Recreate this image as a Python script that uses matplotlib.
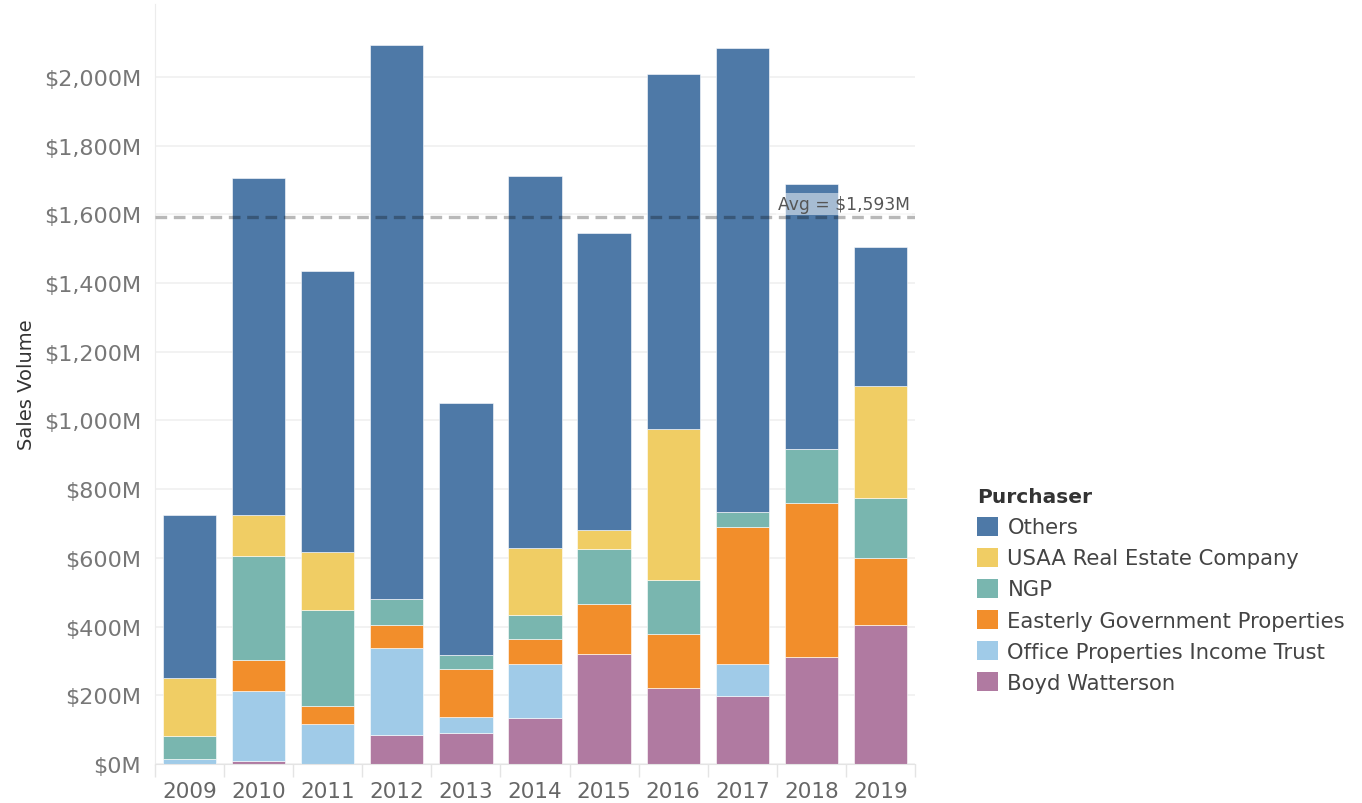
import numpy as np
import matplotlib
matplotlib.use("Agg")
import matplotlib.pyplot as plt
from matplotlib.patches import Patch

years = ["2009", "2010", "2011", "2012", "2013", "2014", "2015", "2016", "2017", "2018", "2019"]

# sales volume in $M, stacked bottom -> top
boyd = [0, 8, 0, 84, 90, 134, 320, 221, 198, 312, 405]
office_props = [15, 204, 116, 254, 47, 157, 0, 0, 93, 0, 0]
easterly = [0, 91, 53, 67, 140, 73, 146, 157, 399, 448, 195]
ngp = [67, 302, 279, 75, 40, 70, 160, 158, 44, 157, 174]
usaa = [168, 120, 169, 0, 0, 195, 55, 439, 0, 0, 326]
others = [475, 981, 818, 1613, 734, 1083, 865, 1034, 1350, 771, 405]

avg_value = 1593
avg_label = "Avg = $1,593M"

series = [
    ("Boyd Watterson", boyd, "#b07aa1"),
    ("Office Properties Income Trust", office_props, "#a0cbe8"),
    ("Easterly Government Properties", easterly, "#f28e2b"),
    ("NGP", ngp, "#79b6af"),
    ("USAA Real Estate Company", usaa, "#f0cd64"),
    ("Others", others, "#4e79a7"),
]

fig = plt.figure(figsize=(13.62, 8.04), dpi=100)
ax = fig.add_axes([0.1138, 0.0485, 0.558, 0.9453])

x = np.arange(len(years))
bottom = np.zeros(len(years))
for name, vals, col in series:
    vals = np.array(vals, dtype=float)
    ax.bar(x, vals, width=0.77, bottom=bottom, color=col, edgecolor="#ffffff",
           linewidth=0.4, zorder=2)
    bottom += vals

# average reference line
ax.axhline(avg_value, color="black", alpha=0.28, linewidth=2.4,
           dashes=(3.5, 2.0), zorder=3)
ax.text(10.42, avg_value + 10, avg_label, ha="right", va="bottom",
        fontsize=12.3, color="#555555", zorder=4,
        bbox=dict(facecolor="white", alpha=0.5, edgecolor="none", pad=1.5))

ax.set_xlim(-0.5, 10.5)
ax.set_ylim(0, 2212)

yticks = np.arange(0, 2001, 200)
ax.set_yticks(yticks)
ax.set_yticklabels(["${:,}M".format(v) for v in yticks], fontsize=16, color="#777777")
ax.set_xticks(x)
ax.set_xticklabels(years, fontsize=15.5, color="#666666")
ax.set_xticks(np.arange(-0.5, 11, 1), minor=True)
ax.tick_params(axis="x", which="major", length=0, pad=12)
ax.tick_params(axis="x", which="minor", length=9, color="#e4e4e4", width=1)
ax.tick_params(axis="y", length=0, pad=10)

ax.yaxis.grid(True, color="#f0f0f0", linewidth=1.2, zorder=0)
ax.set_axisbelow(True)
for s in ["top", "right"]:
    ax.spines[s].set_visible(False)
ax.spines["left"].set_color("#ececec")
ax.spines["bottom"].set_color("#e4e4e4")

ax.set_ylabel("Sales Volume", fontsize=14, color="#333333", labelpad=6)

handles = [Patch(facecolor=col, edgecolor="none") for name, vals, col in series[::-1]]
labels = [name for name, vals, col in series[::-1]]
leg = fig.legend(handles, labels, title="Purchaser", loc="upper left",
                 bbox_to_anchor=(0.711, 0.403), frameon=False, fontsize=15.2,
                 title_fontsize=14.5, handlelength=1.0, handleheight=1.0,
                 handletextpad=0.45, labelspacing=0.49, alignment="left",
                 borderaxespad=0)
leg.get_title().set_fontweight("bold")
leg.get_title().set_color("#333333")
for t in leg.get_texts():
    t.set_color("#444444")

fig.savefig("out.png", dpi=100)
